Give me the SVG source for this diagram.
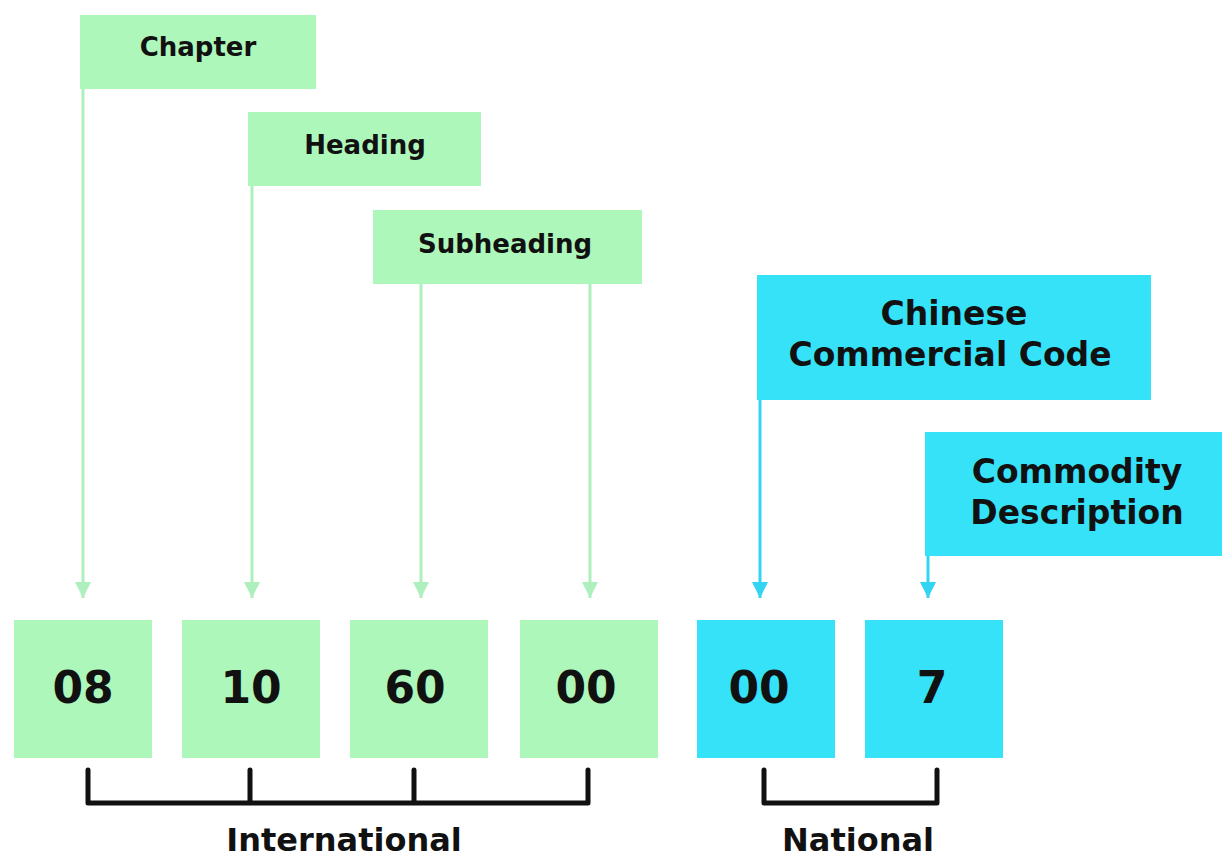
<svg xmlns="http://www.w3.org/2000/svg" width="1222" height="859" viewBox="0 0 1222 859">
<style>
.g{fill:#aef7bb}
.b{fill:#36e2f7}
.t{font-family:"DejaVu Sans","Noto Sans",sans-serif;font-weight:bold;fill:#111;text-anchor:middle;dominant-baseline:central}
.lab{font-size:26px}
.big{font-size:33px}
.foot{font-size:32px}
.num{font-size:44px}
.gl{stroke:#aef0bd;stroke-width:3;fill:none}
.bl{stroke:#33d3f2;stroke-width:3;fill:none}
.br{stroke:#111;stroke-width:5;fill:none;stroke-linecap:round;stroke-linejoin:round}
</style>
<defs>
<marker id="ag" viewBox="0 0 10 10" refX="10" refY="5" markerWidth="5.5" markerHeight="5.5" orient="auto" markerUnits="strokeWidth"><path d="M0,0 L10,5 L0,10 Z" fill="#aef0bd"/></marker>
<marker id="ab" viewBox="0 0 10 10" refX="10" refY="5" markerWidth="5.5" markerHeight="5.5" orient="auto" markerUnits="strokeWidth"><path d="M0,0 L10,5 L0,10 Z" fill="#33d3f2"/></marker>
</defs>
<rect width="1222" height="859" fill="#fff"/>
<g id="connectors">
<line class="gl" x1="83" y1="89" x2="83" y2="598" marker-end="url(#ag)"/>
<line class="gl" x1="252" y1="186" x2="252" y2="598" marker-end="url(#ag)"/>
<line class="gl" x1="421" y1="284" x2="421" y2="598" marker-end="url(#ag)"/>
<line class="gl" x1="590" y1="284" x2="590" y2="598" marker-end="url(#ag)"/>
<line class="bl" x1="760" y1="400" x2="760" y2="598" marker-end="url(#ab)"/>
<line class="bl" x1="928" y1="556" x2="928" y2="598" marker-end="url(#ab)"/>
</g>
<g id="chapter"><rect class="g" x="80" y="15" width="236" height="74"/><text class="t lab" x="198" y="47">Chapter</text></g>
<g id="heading"><rect class="g" x="248" y="112" width="233" height="74"/><text class="t lab" x="365" y="145">Heading</text></g>
<g id="subheading"><rect class="g" x="373" y="210" width="269" height="74"/><text class="t lab" x="505" y="244">Subheading</text></g>
<g id="ccc"><rect class="b" x="757" y="275" width="394" height="125"/><text class="t big" x="954" y="313">Chinese</text><text class="t big" x="950" y="354">Commercial Code</text></g>
<g id="cd"><rect class="b" x="925" y="432" width="297" height="124"/><text class="t big" x="1077" y="471">Commodity</text><text class="t big" x="1077" y="512">Description</text></g>
<g id="n08"><rect class="g" x="14" y="620" width="138" height="138"/><text class="t num" x="83" y="687">08</text></g>
<g id="n10"><rect class="g" x="182" y="620" width="138" height="138"/><text class="t num" x="251" y="687">10</text></g>
<g id="n60"><rect class="g" x="350" y="620" width="138" height="138"/><text class="t num" x="415" y="687">60</text></g>
<g id="n00a"><rect class="g" x="520" y="620" width="138" height="138"/><text class="t num" x="586" y="687">00</text></g>
<g id="n00b"><rect class="b" x="697" y="620" width="138" height="138"/><text class="t num" x="759" y="687">00</text></g>
<g id="n7"><rect class="b" x="865" y="620" width="138" height="138"/><text class="t num" x="932" y="687">7</text></g>
<g id="international">
<path class="br" d="M88,770 V803 H588 V770 M250,770 V803 M414,770 V803"/>
<text class="t foot" x="344" y="840">International</text>
</g>
<g id="national">
<path class="br" d="M764,770 V803 H937 V770"/>
<text class="t foot" x="858" y="840">National</text>
</g>
</svg>
